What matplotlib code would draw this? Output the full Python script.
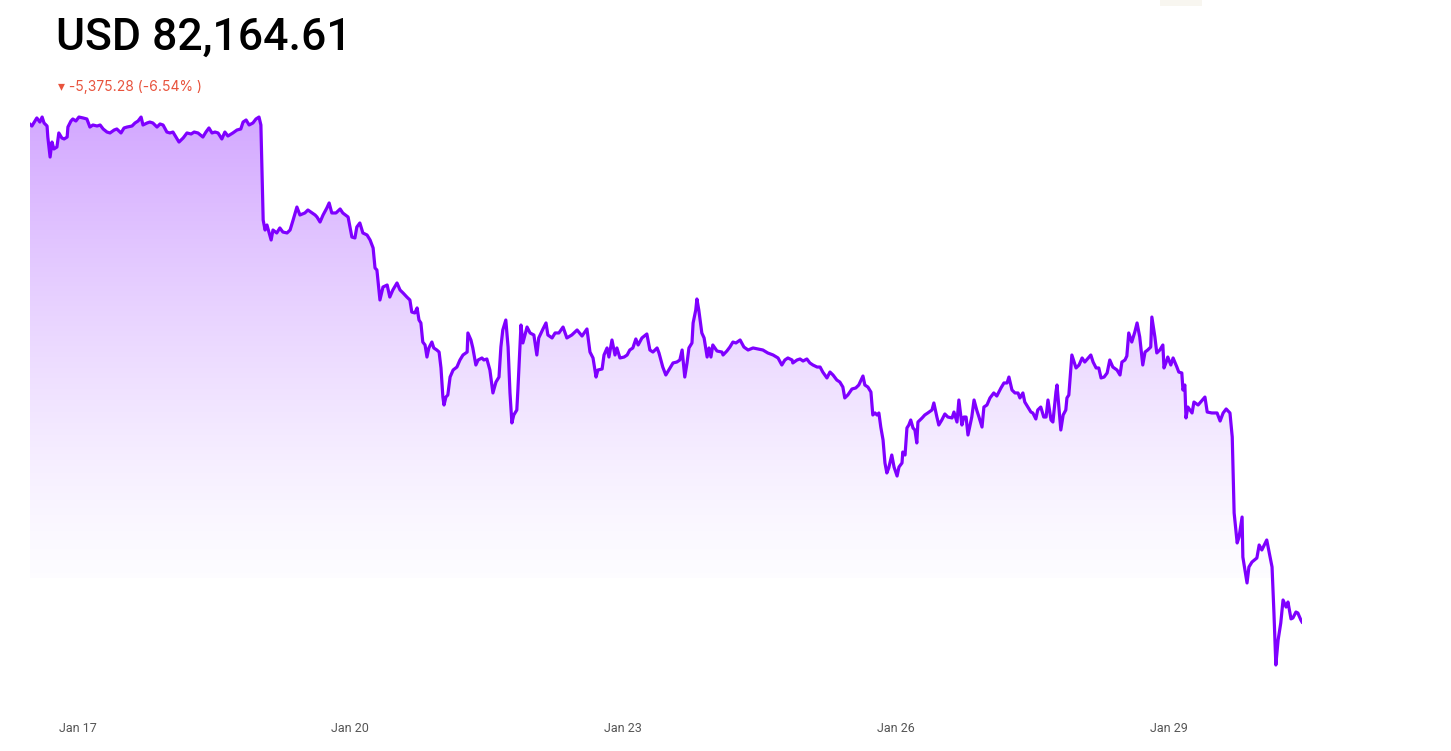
import numpy as np
import matplotlib
matplotlib.use("Agg")
import matplotlib.pyplot as plt
import matplotlib.dates as mdates
from matplotlib.patches import Rectangle

# hours since Jan 16 11:30 and the price at that time (USD)
start = np.datetime64("2025-01-16T11:30")
hours = [
    0.0, 0.5, 1.3, 1.8, 2.6, 3.2, 3.7, 4.5, 4.7, 5.3,
    5.8, 6.3, 7.1, 7.6, 8.4, 9.0, 9.8, 10.0, 10.8, 11.3,
    12.1, 12.9, 14.0, 15.0, 15.8, 16.6, 17.7, 18.5, 19.3, 20.3,
    21.1, 22.2, 22.9, 24.0, 24.8, 25.6, 26.9, 27.7, 28.5, 29.3,
    29.8, 30.9, 31.6, 32.4, 33.5, 34.3, 35.1, 36.1, 36.9, 37.7,
    38.5, 39.3, 40.4, 41.4, 42.5, 43.3, 44.3, 45.6, 46.4, 47.2,
    48.0, 48.8, 49.6, 50.6, 51.4, 52.2, 53.5, 54.6, 55.6, 56.2,
    57.0, 57.8, 58.8, 59.6, 60.4, 60.9, 61.5, 62.0, 62.5, 63.6,
    64.1, 65.1, 65.9, 66.7, 67.8, 68.6, 69.4, 70.4, 71.2, 72.5,
    73.3, 74.4, 75.2, 75.7, 76.5, 77.3, 78.3, 78.9, 79.6, 80.7,
    81.8, 82.5, 83.9, 84.9, 85.7, 86.2, 87.0, 87.8, 88.9, 89.7,
    90.5, 91.0, 91.5, 92.3, 93.1, 94.2, 94.9, 95.7, 96.8, 97.6,
    98.4, 99.4, 100.2, 100.7, 101.5, 102.1, 102.6, 103.1, 103.6, 104.2,
    104.7, 105.2, 106.0, 106.5, 107.3, 107.9, 108.4, 108.9, 109.2, 109.7,
    110.2, 110.8, 111.6, 112.6, 113.4, 114.2, 115.3, 115.5, 116.3, 116.8,
    117.6, 118.2, 119.2, 119.7, 120.5, 121.3, 122.1, 122.9, 123.7, 124.2,
    124.7, 125.5, 126.1, 126.6, 127.1, 127.6, 128.4, 128.7, 129.5, 130.0,
    131.1, 131.9, 132.9, 133.7, 134.2, 135.3, 136.1, 136.6, 137.7, 138.5,
    139.5, 140.6, 141.6, 142.9, 144.3, 145.6, 146.9, 147.7, 148.5, 149.3,
    149.8, 150.9, 151.4, 152.2, 152.7, 153.5, 154.3, 154.8, 155.6, 156.7,
    157.5, 158.2, 159.0, 159.8, 160.4, 161.4, 162.7, 163.5, 164.3, 165.4,
    165.9, 166.9, 167.7, 168.5, 169.6, 170.6, 171.4, 172.0, 172.7, 173.3,
    173.8, 174.6, 174.9, 175.6, 175.9, 176.4, 177.2, 177.8, 178.6, 179.1,
    179.6, 180.1, 181.2, 182.5, 182.8, 183.8, 184.6, 185.4, 186.2, 187.3,
    188.3, 189.4, 190.7, 192.0, 193.3, 194.6, 196.0, 197.3, 198.3, 199.1,
    199.9, 201.0, 201.2, 202.3, 203.1, 203.9, 204.9, 205.7, 206.5, 207.6,
    208.4, 209.1, 210.2, 211.0, 211.8, 212.8, 213.6, 214.4, 214.9, 215.7,
    216.8, 217.8, 218.6, 219.7, 220.2, 221.0, 221.8, 222.3, 222.9, 223.4,
    223.9, 224.4, 225.0, 225.5, 226.0, 226.5, 227.3, 227.9, 228.7, 229.2,
    230.0, 230.2, 230.8, 231.3, 231.8, 232.3, 232.9, 233.4, 233.9, 234.2,
    235.3, 236.0, 236.8, 237.9, 238.4, 239.2, 239.7, 240.5, 241.3, 242.1,
    243.2, 243.7, 244.5, 245.0, 245.8, 246.3, 246.9, 247.4, 248.4, 249.0,
    249.7, 250.3, 251.1, 251.6, 252.4, 253.2, 254.2, 255.0, 256.1, 256.9,
    257.7, 258.2, 259.0, 259.8, 260.6, 261.1, 261.9, 262.4, 263.2, 264.0,
    264.5, 265.3, 265.8, 266.6, 267.4, 268.0, 268.5, 269.3, 269.8, 270.6,
    270.9, 271.4, 271.9, 272.5, 273.2, 273.5, 274.0, 274.8, 275.9, 276.7,
    277.5, 278.2, 279.8, 280.4, 281.2, 281.9, 282.5, 283.3, 284.1, 284.8,
    285.6, 286.7, 287.5, 288.0, 288.8, 289.3, 289.8, 290.6, 291.4, 292.0,
    292.7, 293.5, 294.1, 294.8, 295.6, 295.9, 296.7, 297.2, 298.0, 298.8,
    299.1, 299.6, 300.1, 300.9, 301.5, 302.5, 303.0, 303.8, 304.1, 304.6,
    304.9, 305.4, 306.5, 307.0, 308.1, 309.9, 310.5, 311.7, 313.1, 313.9,
    314.7, 315.5, 316.5, 317.1, 317.6, 318.4, 318.9, 319.7, 319.9, 321.0,
    321.5, 322.3, 323.6, 324.2, 324.9, 326.2, 327.6, 328.1, 328.6, 329.2,
    329.9, 330.5, 331.3, 331.8, 332.6, 333.1, 333.9, 334.4, 335.2, 335.5,
]
prices = [
    87539.89, 87521, 87575, 87608, 87564, 87618, 87554, 87521, 87402, 87186,
    87348, 87273, 87294, 87446, 87392, 87381, 87402, 87510, 87575, 87597,
    87575, 87618, 87608, 87597, 87510, 87532, 87521, 87532, 87489, 87456,
    87446, 87478, 87489, 87446, 87500, 87510, 87521, 87554, 87575, 87618,
    87532, 87554, 87564, 87554, 87510, 87543, 87532, 87456, 87446, 87456,
    87402, 87348, 87392, 87446, 87435, 87456, 87446, 87402, 87456, 87500,
    87446, 87456, 87446, 87381, 87456, 87413, 87446, 87478, 87489, 87564,
    87586, 87532, 87554, 87597, 87618, 87532, 86506, 86398, 86452, 86290,
    86398, 86366, 86420, 86376, 86366, 86398, 86506, 86646, 86560, 86582,
    86614, 86582, 86560, 86538, 86484, 86560, 86636, 86690, 86582, 86582,
    86625, 86582, 86538, 86322, 86312, 86430, 86474, 86366, 86344, 86290,
    86204, 85988, 85966, 85642, 85782, 85804, 85674, 85750, 85826, 85750,
    85718, 85674, 85642, 85512, 85502, 85556, 85426, 85394, 85188, 85156,
    85026, 85124, 85188, 85124, 85102, 85080, 84908, 84594, 84508, 84594,
    84616, 84810, 84886, 84918, 84994, 85048, 85080, 85286, 85210, 85124,
    84940, 84994, 85016, 84994, 85005, 84886, 84638, 84756, 84810, 85134,
    85318, 85426, 85134, 84638, 84314, 84400, 84454, 84670, 85372, 85178,
    85350, 85286, 85264, 85048, 85232, 85329, 85394, 85264, 85232, 85286,
    85286, 85350, 85232, 85264, 85318, 85253, 85329, 85080, 85016, 84810,
    84886, 84897, 85048, 85124, 85026, 85210, 85048, 85124, 85016, 85026,
    85048, 85102, 85124, 85221, 85156, 85232, 85275, 85102, 85080, 85124,
    85070, 84918, 84832, 84886, 84962, 84972, 84994, 85102, 84810, 84962,
    85124, 85178, 85394, 85534, 85653, 85534, 85286, 85232, 85026, 85124,
    85026, 85156, 85091, 85080, 85048, 85091, 85134, 85188, 85178, 85210,
    85134, 85102, 85124, 85113, 85102, 85070, 85048, 85016, 84940, 84994,
    85016, 84994, 84962, 84994, 85005, 84983, 85005, 84962, 84940, 84918,
    84918, 84864, 84800, 84864, 84832, 84778, 84756, 84702, 84584, 84616,
    84681, 84692, 84724, 84821, 84724, 84702, 84648, 84400, 84422, 84400,
    84422, 84270, 84130, 83882, 83774, 83828, 83968, 83838, 83741, 83838,
    83882, 84000, 83968, 84260, 84292, 84346, 84260, 84238, 84098, 84324,
    84368, 84400, 84422, 84454, 84530, 84378, 84292, 84346, 84411, 84378,
    84368, 84432, 84324, 84562, 84292, 84378, 84378, 84184, 84378, 84562,
    84454, 84378, 84270, 84486, 84508, 84584, 84638, 84605, 84692, 84746,
    84746, 84810, 84670, 84638, 84638, 84584, 84638, 84540, 84486, 84432,
    84422, 84357, 84454, 84486, 84378, 84378, 84562, 84346, 84324, 84648,
    84724, 84486, 84238, 84400, 84454, 84584, 84616, 85048, 84908, 84940,
    85016, 84972, 85048, 84972, 84908, 84908, 84800, 84810, 84854, 84994,
    84918, 84886, 84832, 84972, 84994, 85037, 85286, 85188, 85296, 85394,
    85242, 84940, 85080, 85102, 85134, 85458, 85242, 85070, 85102, 85156,
    84908, 84962, 85026, 84940, 85016, 84918, 84864, 84854, 84670, 84724,
    84368, 84486, 84422, 84540, 84508, 84594, 84432, 84422, 84422, 84335,
    84422, 84465, 84422, 84162, 83342, 83018, 83082, 83298, 82866, 82586,
    82758, 82812, 82856, 82996, 82942, 83050, 82758, 82262, 81700, 81970,
    82154, 82402, 82326, 82380, 82198, 82208, 82272, 82262, 82186, 82164.61,
]
tick_days = [17, 20, 23, 26, 29]
title_text = "USD 82,164.61"
change_text = "\u25be -5,375.28 (-6.54% )"

line_color = "#7f00ff"
times = start + (np.array(hours) * 60).astype("timedelta64[m]")
x = mdates.date2num(times)
y = np.array(prices)

W, H = 1451, 751
fig = plt.figure(figsize=(W / 100, H / 100), dpi=100)
fig.patch.set_facecolor("white")

# small light tab at the very top edge of the page
fig.patches.append(Rectangle((1160 / W, 1 - 6 / H), 42 / W, 6 / H,
                             transform=fig.transFigure, facecolor="#f8f6f0",
                             edgecolor="none"))

# axes placed so that the line spans the same pixels as in the screenshot
px_top, px_bot = 100, 690
ax = fig.add_axes([30 / W, 1 - px_bot / H, (1302 - 30) / W, (px_bot - px_top) / H])
for s in ax.spines.values():
    s.set_visible(False)
ax.set_yticks([])

# gradient fill under the line, fading to (almost) white at its bottom edge
base = 82640
poly = ax.fill_between(x, y, base, facecolor="none", edgecolor="none")
n = 256
alpha = 0.015 + np.linspace(1, 0, n) ** 1.3 * 0.33
grad = np.zeros((n, 1, 4))
grad[:, 0, 0] = 127 / 255
grad[:, 0, 1] = 0
grad[:, 0, 2] = 1
grad[:, 0, 3] = alpha
img = ax.imshow(grad, extent=[x[0], x[-1], base, 87640], aspect="auto",
                origin="upper", zorder=1, interpolation="bilinear")
img.set_clip_path(poly.get_paths()[0], transform=ax.transData)
ax.set_xlim(x[0], x[-1])
ax.set_ylim(81430, 87802)

ax.plot(x, y, color=line_color, lw=2.3, solid_joinstyle="round", zorder=3)

ax.xaxis.set_major_locator(mdates.DayLocator(bymonthday=tick_days))
ax.xaxis.set_major_formatter(mdates.DateFormatter("%b %d"))
ax.tick_params(axis="x", length=0, pad=23, labelsize=9, labelcolor="#555555")
for lbl in ax.get_xticklabels():
    lbl.set_fontfamily("Roboto")

fig.text(56 / W, 1 - 50 / H, title_text, fontsize=32, fontweight="medium",
         family="Roboto", color="black", va="baseline", ha="left")
fig.text(58 / W, 1 - 91 / H, change_text, fontsize=10, color="#e8533d",
         family=["Inter", "DejaVu Sans"], va="baseline", ha="left")

fig.savefig("out.png", dpi=100, facecolor="white")
